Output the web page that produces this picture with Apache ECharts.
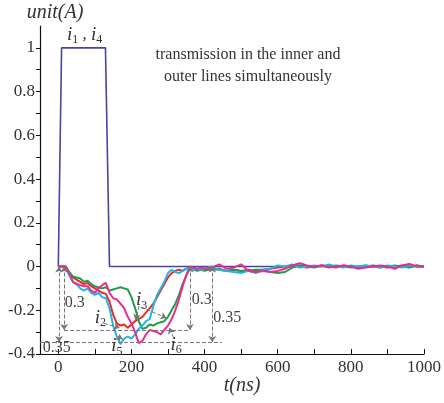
<!DOCTYPE html>
<html>
<head>
<meta charset="utf-8">
<script src="https://cdn.jsdelivr.net/npm/echarts@6/dist/echarts.min.js"></script>
<style>
  html, body { margin: 0; padding: 0; background: #fff; }
  #chart { width: 444px; height: 403px; }
</style>
</head>
<body>
<div id="chart"></div>
<script>
// time grid (ns)
const tA = [0,10,20,30,40,50,60,70,80,90,100,110,120,130,140,150,160,170,180,190,200,
  210,220,230,240,250,260,270,280,290,300,310,320,330,340,350,360,370,380,390,400,
  420,440,460,480,500,520,540,560,580,600,620,640,660,680,700,720,740,760,780,800,
  820,840,860,880,900,920,940,960,980,1000];

// i2 (red)
const i2 = [0,0,0,-0.03,-0.05,-0.06,-0.07,-0.08,-0.075,-0.09,-0.1,-0.11,-0.12,-0.125,-0.16,-0.22,-0.26,-0.27,-0.265,-0.28,-0.265,
  -0.25,-0.24,-0.23,-0.21,-0.19,-0.17,-0.14,-0.11,-0.08,-0.05,-0.03,-0.02,-0.015,-0.02,-0.01,-0.005,-0.01,-0.015,-0.01,-0.01,
  -0.015,-0.01,-0.02,-0.015,-0.02,-0.015,-0.02,-0.015,-0.01,-0.005,0,0.005,0,-0.005,0,0.005,0,-0.005,0.005,0,
  -0.005,0,0.005,0,-0.005,0,0.005,0,0.005,0];
// i3 (green)
const i3 = [0,0,0,-0.025,-0.045,-0.05,-0.055,-0.07,-0.065,-0.08,-0.09,-0.095,-0.1,-0.095,-0.11,-0.105,-0.1,-0.095,-0.1,-0.105,-0.14,
  -0.19,-0.25,-0.285,-0.28,-0.265,-0.27,-0.26,-0.255,-0.25,-0.23,-0.2,-0.17,-0.13,-0.08,-0.04,-0.01,-0.015,-0.02,-0.015,-0.02,
  -0.01,-0.015,-0.02,-0.015,-0.02,-0.02,-0.015,-0.015,-0.025,-0.03,-0.025,-0.005,0.005,0,-0.005,0.005,0,0.005,0,-0.005,
  0,0.005,0,-0.005,0,0.005,0,-0.005,0.005,0];
// i5 (cyan)
const i5 = [0,0,-0.01,-0.04,-0.07,-0.08,-0.1,-0.11,-0.1,-0.12,-0.13,-0.12,-0.14,-0.145,-0.19,-0.27,-0.32,-0.355,-0.33,-0.32,-0.33,
  -0.31,-0.285,-0.27,-0.25,-0.24,-0.18,-0.13,-0.1,-0.07,-0.03,-0.015,-0.025,-0.03,-0.02,-0.01,-0.005,-0.015,-0.01,-0.015,-0.01,
  0,-0.015,-0.02,-0.025,-0.03,-0.02,-0.03,-0.015,-0.01,0.005,0,0.01,-0.005,0,0.005,0,0.01,0,-0.005,0.005,
  0,0.005,0,-0.005,0.005,0,-0.005,0.005,0,0];
// i6 (magenta)
const i6 = [0,0,0,-0.03,-0.07,-0.08,-0.085,-0.09,-0.09,-0.11,-0.12,-0.1,-0.085,-0.075,-0.12,-0.145,-0.15,-0.17,-0.19,-0.23,-0.26,
  -0.3,-0.35,-0.34,-0.31,-0.29,-0.295,-0.3,-0.31,-0.29,-0.27,-0.24,-0.2,-0.15,-0.09,-0.04,0,-0.005,-0.01,-0.005,-0.01,
  -0.005,0.01,-0.01,-0.005,0.01,-0.02,-0.025,-0.02,-0.025,-0.02,-0.01,0.005,0.015,0.005,0,0.005,-0.005,0,0.005,0,
  -0.01,-0.005,0,0.005,0,-0.01,0.005,0.012,0,0];

// i1, i4 (source pulse)
const pulseT = [0, 9, 129, 140, 1000];
const pulseV = [0, 1, 1, 0, 0];

// tick labels
const xTickLabels = [0, 200, 400, 600, 800, 1000];
const xTicks = [0, 100, 200, 300, 400, 500, 600, 700, 800, 900, 1000];
const yTickLabels = [-0.4, -0.2, 0, 0.2, 0.4, 0.6, 0.8, 1];
const yTicks = [-0.4, -0.3, -0.2, -0.1, 0, 0.1, 0.2, 0.3, 0.4, 0.5, 0.6, 0.7, 0.8, 0.9, 1];

const zip = (xs, ys) => xs.map((x, k) => [x, ys[k]]);

const serif = 'Liberation Serif';
const chart = echarts.init(document.getElementById('chart'));

const richI = {
  i: { fontFamily: serif, fontStyle: 'italic', fontSize: 19, color: '#333', lineHeight: 22, verticalAlign: 'middle' },
  s: { fontFamily: serif, fontSize: 12, color: '#333', lineHeight: 22, verticalAlign: 'bottom' },
  c: { fontFamily: serif, fontSize: 17, color: '#333', lineHeight: 22, verticalAlign: 'middle' },
  n: { fontFamily: serif, fontSize: 16, color: '#444' }
};

function lbl(coord, text) {
  return { coord: coord, symbol: 'circle', symbolSize: 0,
    label: { show: true, position: 'inside', formatter: text, fontFamily: serif, rich: richI } };
}
function seg(a, b, arrows) {
  return [{ coord: a, symbol: arrows ? arrows[0] : 'none' }, { coord: b, symbol: arrows ? arrows[1] : 'none' }];
}

const line = (name, data, color, w) => ({
  name: name, type: 'line', data: data, showSymbol: false, symbol: 'none',
  lineStyle: { color: color, width: w }, z: 3
});

chart.setOption({
  animation: false,
  backgroundColor: '#fff',
  textStyle: { fontFamily: serif },
  grid: { left: 40, right: 9, top: 26, bottom: 49 },
  xAxis: {
    type: 'value', min: -50, max: 1000,
    axisLine: { onZero: false, lineStyle: { color: '#111', width: 1.2 } },
    axisTick: { inside: true, length: 5, customValues: xTicks, lineStyle: { color: '#111' } },
    axisLabel: { customValues: xTickLabels, formatter: v => String(v), fontFamily: serif, fontSize: 17, color: '#333', margin: 5 },
    splitLine: { show: false }
  },
  yAxis: {
    type: 'value', min: -0.4, max: 1.1,
    axisLine: { show: true, onZero: false, lineStyle: { color: '#111', width: 1.2 } },
    axisTick: { show: true, length: 4, customValues: yTicks, lineStyle: { color: '#111' } },
    axisLabel: { customValues: yTickLabels, formatter: v => String(v), fontFamily: serif, fontSize: 17, color: '#333', margin: 5 },
    splitLine: { show: false }
  },
  graphic: [
    { type: 'text', x: 55, y: 13, style: { text: 'unit(A)', font: 'italic 20px ' + serif, fill: '#333', align: 'center', verticalAlign: 'middle' } },
    { type: 'text', x: 242, y: 386, style: { text: 't(ns)', font: 'italic 20px ' + serif, fill: '#333', align: 'center', verticalAlign: 'middle' } },
    { type: 'text', x: 248, y: 66, style: { text: 'transmission in the inner and\nouter lines simultaneously',
      font: '16px ' + serif, fill: '#333', align: 'center', verticalAlign: 'middle', lineHeight: 22 } }
  ],
  series: [
    line('i1,i4', zip(pulseT, pulseV), '#4545a5', 1.6),
    line('i2', zip(tA, i2), '#ee2a24', 2),
    line('i3', zip(tA, i3), '#1f9e48', 2),
    line('i5', zip(tA, i5), '#1db5ec', 2),
    line('i6', zip(tA, i6), '#eb2a8d', 2),
    {
      name: 'notes', type: 'line', data: [], silent: true,
      markLine: {
        silent: true, symbolSize: 6,
        label: { show: false },
        lineStyle: { type: 'dashed', color: '#777', width: 1 },
        emphasis: { disabled: true },
        data: [
          seg([2, 0], [2, -0.345], ['arrow', 'arrow']),
          seg([16, 0], [16, -0.29], ['arrow', 'arrow']),
          seg([16, -0.29], [360, -0.29]),
          seg([-50, -0.345], [447, -0.345]),
          seg([360, 0], [360, -0.29], ['arrow', 'arrow']),
          seg([421, 0], [421, -0.345], ['arrow', 'arrow']),
          seg([125, -0.26], [168, -0.28], ['none', 'arrow']),
          seg([221, -0.18], [211, -0.245], ['none', 'arrow']),
          seg([226, -0.185], [296, -0.235], ['none', 'arrow']),
          seg([168, -0.34], [168, -0.31], ['none', 'arrow']),
          seg([315, -0.325], [304, -0.28], ['none', 'arrow'])
        ]
      },
      markPoint: {
        silent: true,
        data: [
          lbl([72, 1.06], '{i|i}{s|1}{c| , }{i|i}{s|4}'),
          lbl([115, -0.235], '{i|i}{s|2}'),
          lbl([228, -0.155], '{i|i}{s|3}'),
          lbl([160, -0.365], '{i|i}{s|5}'),
          lbl([322, -0.36], '{i|i}{s|6}'),
          lbl([45, -0.165], '{n|0.3}'),
          lbl([-4, -0.372], '{n|0.35}'),
          lbl([392, -0.15], '{n|0.3}'),
          lbl([462, -0.235], '{n|0.35}')
        ]
      }
    }
  ]
});
</script>
</body>
</html>
